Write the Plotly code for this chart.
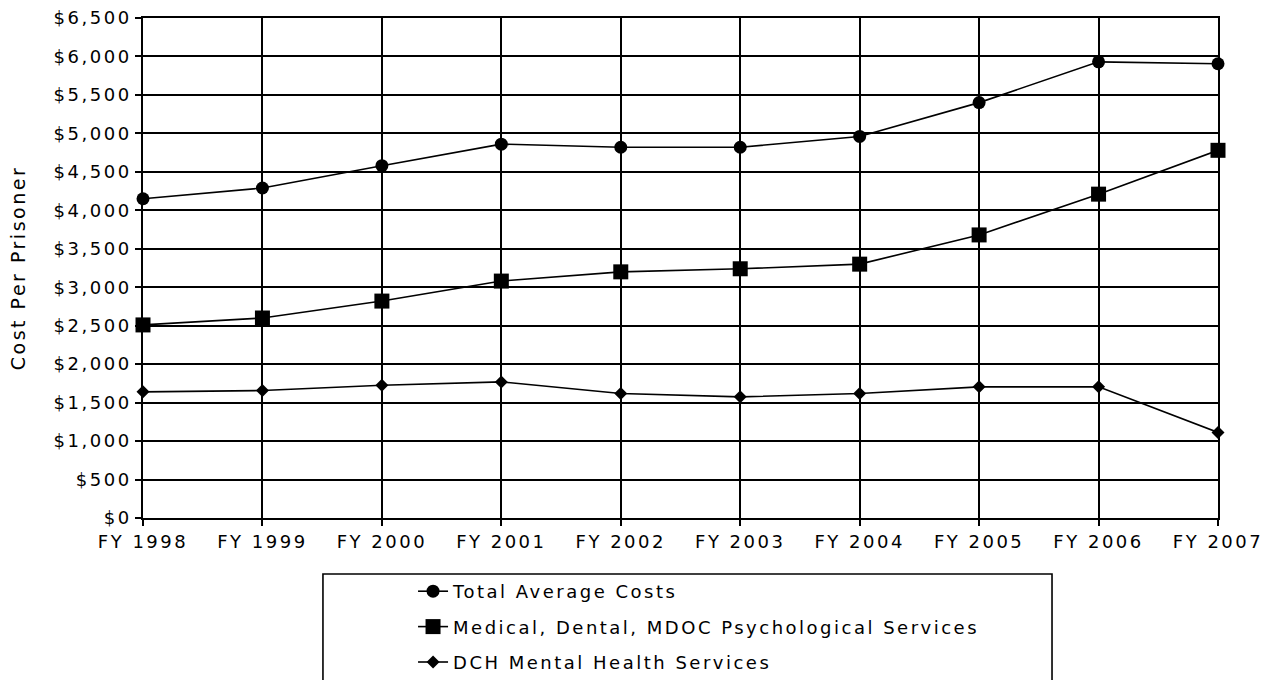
import plotly.graph_objects as go

years = ["FY 1998", "FY 1999", "FY 2000", "FY 2001", "FY 2002",
         "FY 2003", "FY 2004", "FY 2005", "FY 2006", "FY 2007"]
total_avg = [4150, 4290, 4580, 4860, 4820, 4820, 4960, 5400, 5930, 5905]
medical = [2510, 2600, 2820, 3080, 3200, 3240, 3300, 3680, 4210, 4780]
dch_mental = [1640, 1657, 1726, 1769, 1618, 1575, 1618, 1705, 1705, 1112]
y_ticks = [0, 500, 1000, 1500, 2000, 2500, 3000, 3500, 4000, 4500, 5000, 5500, 6000, 6500]
y_tick_labels = ["$0", "$500", "$1,000", "$1,500", "$2,000", "$2,500", "$3,000",
                 "$3,500", "$4,000", "$4,500", "$5,000", "$5,500", "$6,000", "$6,500"]

FONT = "DejaVu Sans, Verdana, sans-serif"

fig = go.Figure()
series = [
    ("Total Average Costs", total_avg, "circle", 13),
    ("Medical, Dental, MDOC Psychological Services", medical, "square", 15),
    ("DCH Mental Health Services", dch_mental, "diamond", 10),
]
for i, (name, vals, sym, sz) in enumerate(series):
    fig.add_trace(go.Scatter(
        x=list(range(len(years))), y=vals, name=name, mode="lines+markers",
        line=dict(color="black", width=1.6),
        marker=dict(symbol=sym, size=sz, color="black"),
        legendgroup=f"g{i}", cliponaxis=False,
    ))

fig.update_layout(
    width=1274, height=680,
    margin=dict(l=143, r=56, t=18, b=162, autoexpand=False),
    paper_bgcolor="white", plot_bgcolor="white",
    font=dict(family=FONT, size=18, color="black"),
    showlegend=True,
    legend=dict(x=0.2512, y=-0.110, xanchor="left", yanchor="top",
                bgcolor="rgba(0,0,0,0)", borderwidth=0,
                tracegroupgap=9, font=dict(size=18)),
    xaxis=dict(
        range=[0, 9], tickmode="array", tickvals=list(range(len(years))),
        ticktext=years, showgrid=True, gridcolor="black", gridwidth=1.6,
        showline=True, linecolor="black", linewidth=1.6, mirror=True,
        ticks="outside", ticklen=6, tickwidth=1.6, tickcolor="black",
        zeroline=False, automargin=False, ticklabelstandoff=1,
    ),
    yaxis=dict(
        range=[0, 6500], tickmode="array", tickvals=y_ticks,
        ticktext=y_tick_labels, showgrid=True, gridcolor="black",
        gridwidth=1.6, showline=True, linecolor="black", linewidth=1.6,
        mirror=True, ticks="outside", ticklen=6, tickwidth=1.6,
        tickcolor="black", zeroline=False, automargin=False,
        title=dict(text="Cost Per Prisoner", font=dict(size=19), standoff=38),
    ),
)

fig.add_shape(type="rect", xref="paper", yref="paper",
              x0=0.1674, x1=0.8456, y0=-0.1119, y1=-0.36,
              line=dict(color="black", width=1.6), fillcolor="rgba(0,0,0,0)")

post = """
var s=document.createElement('style');
s.textContent='html,body{margin:0;padding:0} .main-svg text{letter-spacing:2.5px} .legend .scrollbox, .legend{clip-path:none !important}';
document.head.appendChild(s);
"""
fig.write_html("out.html", post_script=post, config={"displayModeBar": False})
